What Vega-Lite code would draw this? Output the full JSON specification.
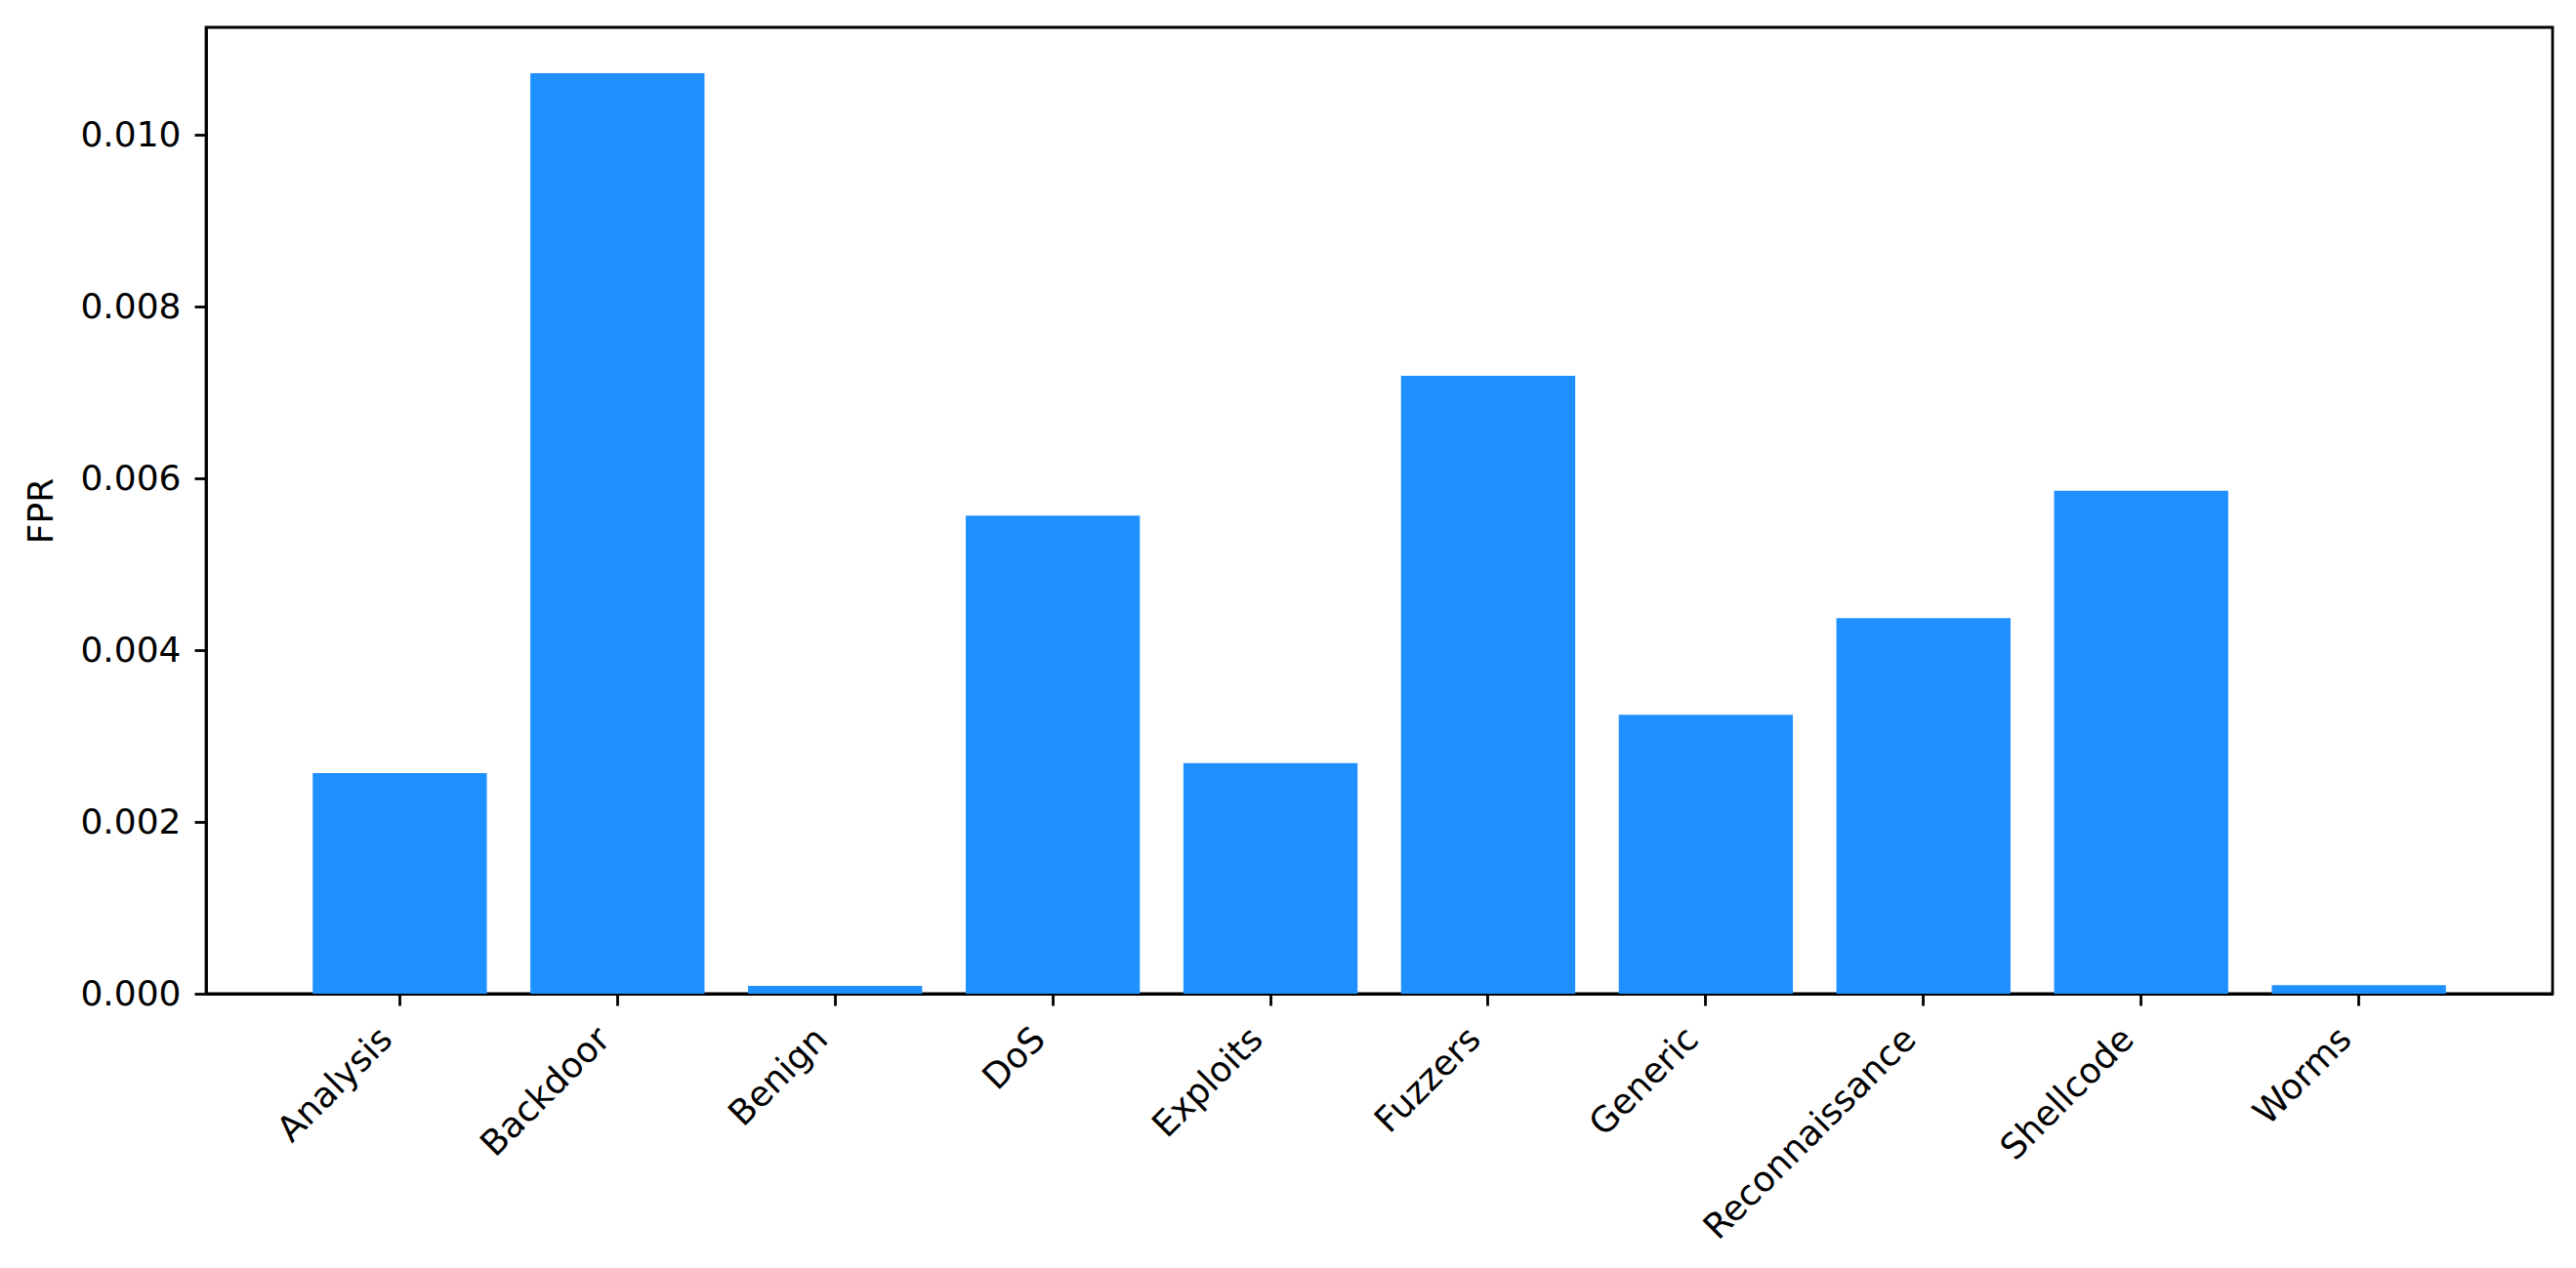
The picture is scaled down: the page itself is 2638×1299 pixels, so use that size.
{
  "$schema": "https://vega.github.io/schema/vega-lite/v6.json",
  "width": 2403,
  "height": 990,
  "autosize": "none",
  "padding": {"left": 211, "top": 28, "right": 24, "bottom": 281},
  "background": "white",
  "data": {
    "values": [
      {"category": "Analysis", "FPR": 0.002568},
      {"category": "Backdoor", "FPR": 0.010716},
      {"category": "Benign", "FPR": 0.00009},
      {"category": "DoS", "FPR": 0.005565},
      {"category": "Exploits", "FPR": 0.002685},
      {"category": "Fuzzers", "FPR": 0.007193},
      {"category": "Generic", "FPR": 0.003247},
      {"category": "Reconnaissance", "FPR": 0.004372},
      {"category": "Shellcode", "FPR": 0.005856},
      {"category": "Worms", "FPR": 0.0001}
    ]
  },
  "mark": {"type": "bar", "color": "#1E90FF"},
  "encoding": {
    "x": {
      "field": "category",
      "type": "nominal",
      "sort": null,
      "scale": {"paddingInner": 0.2, "paddingOuter": 0.49},
      "axis": {
        "title": null,
        "labelAngle": -45,
        "labelAlign": "right",
        "labelBaseline": "bottom",
        "labelPadding": 42,
        "labelLimit": 0,
        "labelOverlap": false,
        "tickSize": 12,
        "tickWidth": 2.8,
        "labelFontSize": 36
      }
    },
    "y": {
      "field": "FPR",
      "type": "quantitative",
      "scale": {"domain": [0, 0.01125], "nice": false},
      "axis": {
        "title": "FPR",
        "values": [0, 0.002, 0.004, 0.006, 0.008, 0.01],
        "format": ".3f",
        "grid": false,
        "tickSize": 12,
        "tickWidth": 2.8,
        "labelPadding": 14,
        "labelFontSize": 36,
        "titleFontSize": 36,
        "titleFontWeight": "normal",
        "titlePadding": 20
      }
    }
  },
  "config": {
    "font": "DejaVu Sans",
    "view": {"stroke": "black", "strokeWidth": 2.8},
    "axis": {
      "domainColor": "black",
      "domainWidth": 2.8,
      "tickColor": "black",
      "labelColor": "black",
      "titleColor": "black",
      "labelFont": "DejaVu Sans",
      "titleFont": "DejaVu Sans",
      "grid": false
    }
  }
}
